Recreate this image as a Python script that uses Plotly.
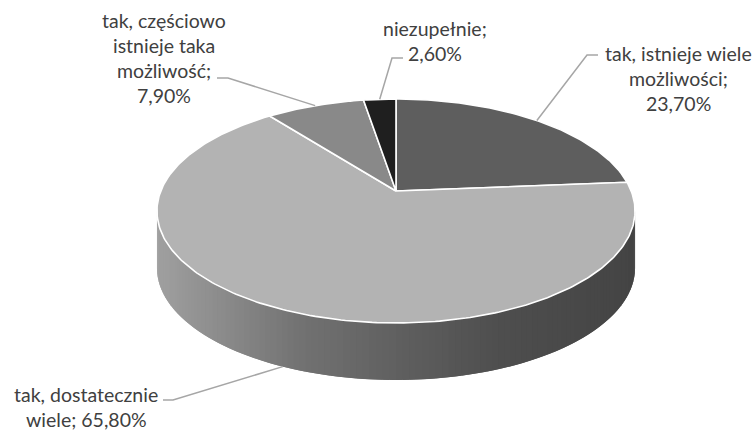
import numpy as np
import plotly.graph_objects as go

# ---- data ----
categories = [
    "tak, istnieje wiele\nmożliwości",
    "tak, dostatecznie\nwiele",
    "tak, częściowo\nistnieje taka\nmożliwość",
    "niezupełnie",
]
values = [23.7, 65.8, 7.9, 2.6]
value_separators = ["\n", " ", "\n", "\n"]  # break between name and percentage

# ---- style ----
slice_colors = ["#5e5e5e", "#b3b3b3", "#898989", "#1f1f1f"]
side_stops = [(0.00, 160), (0.30, 114), (0.50, 96), (0.72, 78), (1.00, 68)]  # grey level across the rim
text_color = "#404040"
leader_color = "#a6a6a6"
FONT = "Lato"
FSIZE = 19.5
LINE_GAP = 25.0

# ---- pie geometry (pixels, perspective-tilted disc) ----
CX, CY = 396.0, 191.0
A, B, K = 235.2, 108.4, 0.1786
DEPTH = 57.0
W, H = 756, 432

# label layout: centre x, first baseline y, leader elbow, leader end
label_cx = [678, 86, 164, 435]
label_base = [60, 401, 26.7, 35]
leader_elbow = [(587, 55), (173, 400), (228, 78), (392, 58)]
leader_end = [(598, 55), (163, 400), (217, 78), (403, 58)]


def proj(theta):
    """Project a rim angle (radians, clockwise from the far side) to screen."""
    d = 1 + K * np.cos(theta)
    return CX + A * np.sin(theta) / d, CY - B * np.cos(theta) / d


def side_color(frac):
    xs = [s[0] for s in side_stops]
    gs = [s[1] for s in side_stops]
    g = int(round(np.interp(frac, xs, gs)))
    return f"rgb({g},{g},{g})"


fig = go.Figure()

# rim (side wall), visible between the two silhouette angles;
# strips overlap their neighbour so no seams show between them
t_right = np.pi - np.arccos(K)
t_left = np.pi + np.arccos(K)
n_strips = 120
edges = np.linspace(t_left, t_right, n_strips + 1)
x_min, _ = proj(t_left)
x_max, _ = proj(t_right)
for i in range(n_strips):
    hi = edges[min(i + 2, n_strips)]
    tt = np.linspace(edges[i], hi, 4)
    xt, yt = proj(tt)
    xs = list(xt) + list(xt[::-1])
    ys = list(yt) + list((yt + DEPTH)[::-1])
    xm, _ = proj((edges[i] + edges[i + 1]) / 2)
    frac = (xm - x_min) / (x_max - x_min)
    c = side_color(frac)
    fig.add_trace(go.Scatter(x=xs, y=ys, mode="lines", fill="toself",
                             fillcolor=c, line=dict(width=0),
                             hoverinfo="skip", showlegend=False))

# top face slices
total = sum(values)
cum = np.concatenate([[0], np.cumsum(values)]) / total * 2 * np.pi
for i, v in enumerate(values):
    tt = np.linspace(cum[i], cum[i + 1], max(4, int(v * 4)))
    xt, yt = proj(tt)
    xs = [CX] + list(xt) + [CX]
    ys = [CY] + list(yt) + [CY]
    fig.add_trace(go.Scatter(x=xs, y=ys, mode="lines", fill="toself",
                             fillcolor=slice_colors[i],
                             line=dict(color="white", width=1.6),
                             hoverinfo="skip", showlegend=False))

# leader lines and labels
annotations = []
for i, v in enumerate(values):
    mid = (cum[i] + cum[i + 1]) / 2
    ax, ay = proj(mid)
    if np.cos(mid) < 0:
        ay += DEPTH
    ex, ey = leader_elbow[i]
    fx, fy = leader_end[i]
    fig.add_trace(go.Scatter(x=[ax, ex, fx], y=[ay, ey, fy], mode="lines",
                             line=dict(color=leader_color, width=1.5),
                             hoverinfo="skip", showlegend=False))
    pct = f"{v:.2f}".replace(".", ",") + "%"
    text = categories[i] + ";" + value_separators[i] + pct
    for j, line in enumerate(text.split("\n")):
        annotations.append(dict(
            x=label_cx[i], y=label_base[i] + j * LINE_GAP - 0.33 * FSIZE,
            text=line, showarrow=False, xanchor="center", yanchor="middle",
            font=dict(family=FONT, size=FSIZE, color=text_color),
        ))

fig.update_layout(
    width=W, height=H, autosize=False,
    margin=dict(l=0, r=0, t=0, b=0),
    paper_bgcolor="white", plot_bgcolor="white",
    xaxis=dict(range=[0, W], visible=False, fixedrange=True),
    yaxis=dict(range=[H, 0], visible=False, fixedrange=True),
    annotations=annotations,
    showlegend=False,
    hovermode=False,
)

fig.write_html("out.html", config={"displayModeBar": False})
